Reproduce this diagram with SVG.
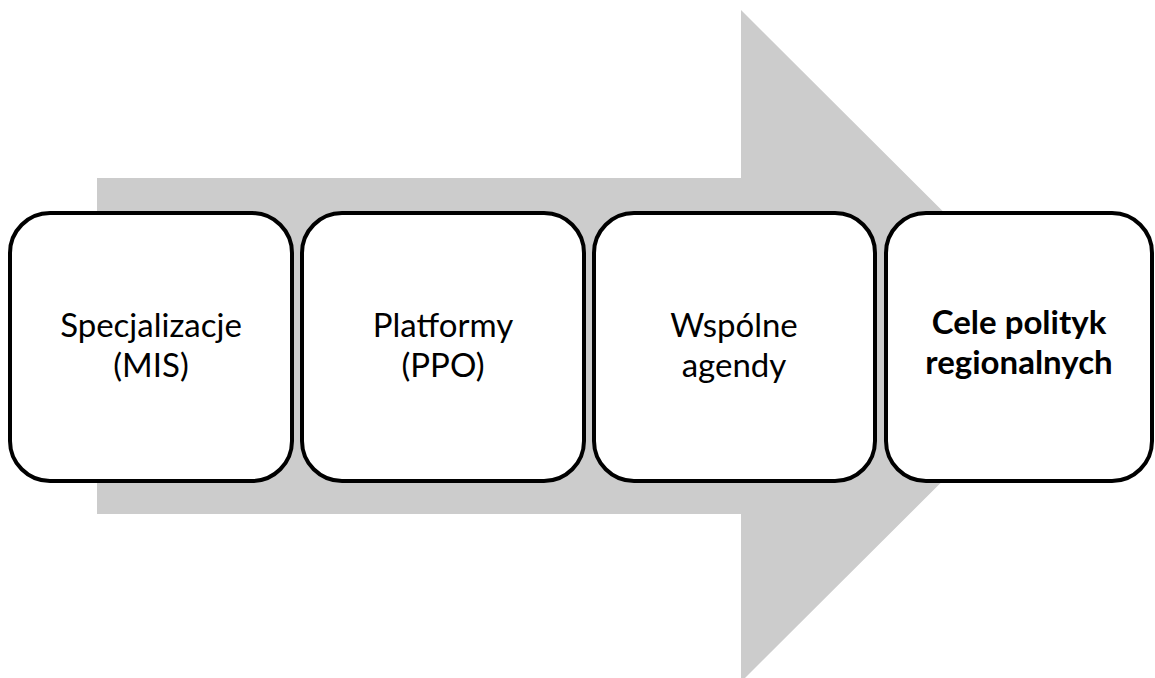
<svg xmlns="http://www.w3.org/2000/svg" width="1155" height="678" viewBox="0 0 1155 678">
  <style>
    .step { fill: #ffffff; stroke: #000000; stroke-width: 4; }
    .label { font-family: Lato, "Open Sans", "Liberation Sans", sans-serif; font-size: 33px; fill: #000000; text-anchor: middle; }
    .bold { font-weight: bold; font-size: 33px; }
  </style>
  <rect width="1155" height="678" fill="#ffffff"/>
  <!-- background process arrow -->
  <g id="arrow">
    <polygon points="97,178 741,178 741,10 1078,346 741,682 741,514 97,514" fill="#cccccc"/>
  </g>
  <g id="connectors"/>
  <g id="node-specjalizacje">
    <rect class="step" x="10" y="213" width="282" height="268" rx="40" ry="40"/>
    <text class="label" x="151" y="337">Specjalizacje</text>
    <text class="label" x="151" y="377">(MIS)</text>
  </g>
  <g id="node-platformy">
    <rect class="step" x="302" y="213" width="282" height="268" rx="40" ry="40"/>
    <text class="label" x="443" y="337">Platformy</text>
    <text class="label" x="443" y="377">(PPO)</text>
  </g>
  <g id="node-agendy">
    <rect class="step" x="594" y="213" width="281" height="268" rx="40" ry="40"/>
    <text class="label" x="734" y="337">Wspólne</text>
    <text class="label" x="734" y="377">agendy</text>
  </g>
  <g id="node-cele">
    <rect class="step" x="886" y="213" width="266" height="268" rx="40" ry="40"/>
    <text class="label bold" x="1019" y="334">Cele polityk</text>
    <text class="label bold" x="1019" y="374">regionalnych</text>
  </g>
</svg>
